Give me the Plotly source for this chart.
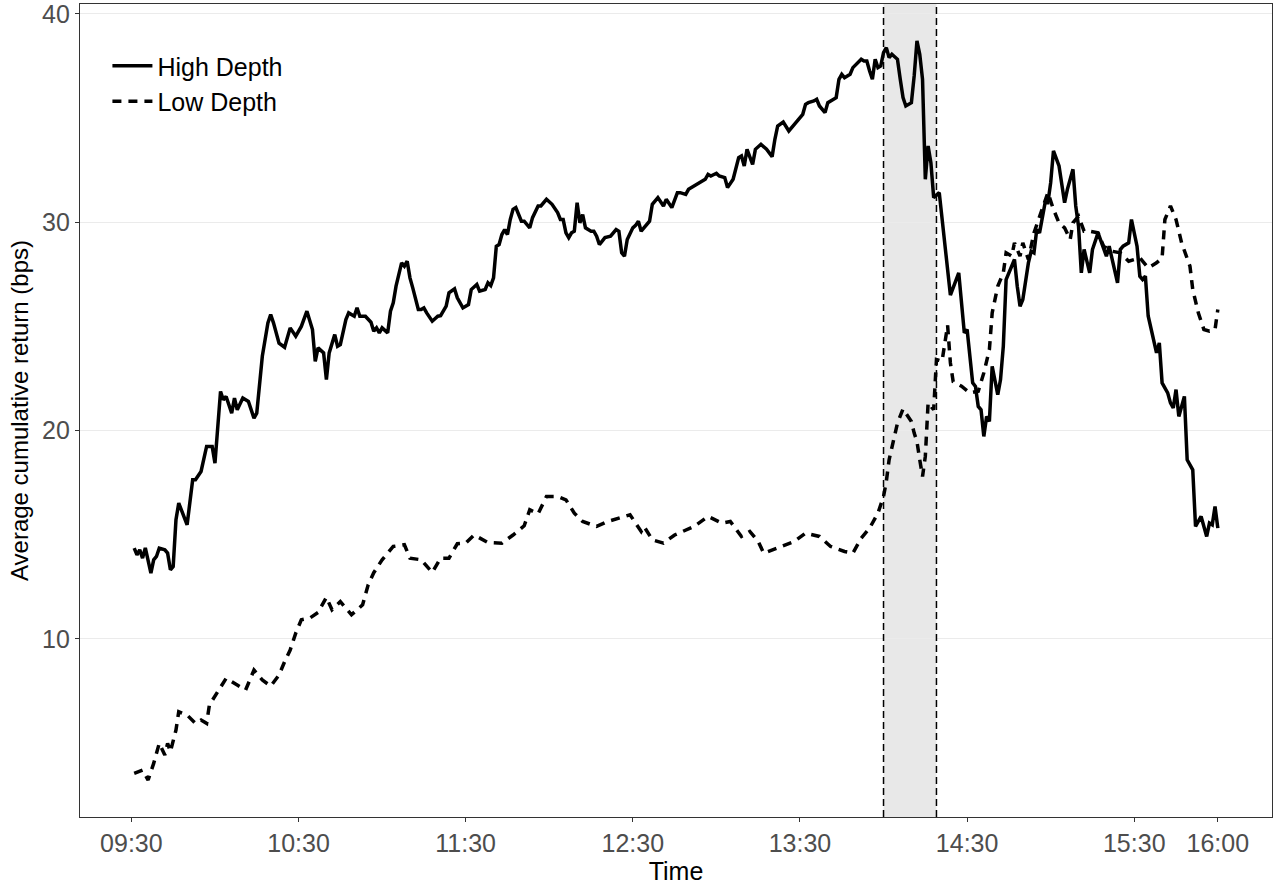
import pandas as pd
import plotly.graph_objects as go

# Minutes after the 09:30 open and average cumulative returns (bps)
high_minutes = [
    1, 2, 3, 4, 5, 7, 8, 9, 10, 12, 13, 14, 15, 16, 17, 20, 22, 23, 25, 27,
    29, 30, 32, 33, 34, 36, 37, 38, 40, 42, 44, 45, 47, 49, 50, 51, 53, 55, 57, 59,
    61, 63, 65, 66, 67, 69, 70, 71, 73, 74, 75, 77, 78, 80, 81, 82, 84, 86, 87, 88,
    89, 90, 92, 93, 94, 95, 97, 98, 99, 100, 101, 103, 104, 105, 106, 108, 110, 111, 113, 114,
    116, 117, 119, 121, 122, 124, 125, 127, 128, 129, 130, 131, 132, 133, 134, 135, 136, 137, 138, 140,
    141, 143, 144, 146, 147, 149, 151, 153, 154, 155, 156, 157, 158, 159, 160, 161, 162, 163, 165, 166,
    167, 168, 170, 172, 174, 175, 176, 177, 178, 180, 181, 182, 183, 185, 186, 187, 189, 191, 192, 194,
    196, 197, 199, 200, 202, 204, 206, 207, 208, 210, 211, 213, 214, 216, 218, 219, 220, 221, 223, 224,
    226, 228, 230, 231, 232, 234, 235, 236, 238, 239, 241, 242, 243, 245, 246, 247, 249, 250, 251, 253,
    254, 255, 256, 258, 259, 261, 262, 263, 264, 265, 266, 267, 268, 269, 270, 271, 272, 273, 275, 276,
    277, 278, 280, 281, 282, 283, 284, 285, 286, 287, 288, 290, 291, 292, 294, 297, 299, 300, 302, 303,
    304, 305, 306, 307, 308, 309, 311, 312, 313, 314, 315, 317, 318, 319, 320, 322, 323, 324, 325, 326,
    328, 329, 330, 331, 333, 335, 336, 338, 339, 340, 341, 342, 344, 345, 347, 349, 350, 351, 352, 354,
    355, 356, 358, 359, 361, 362, 363, 364, 365, 367, 368, 369, 370, 372, 373, 374, 375, 376, 378, 379,
    381, 382, 384, 386, 387, 388, 389, 390,
]
high_depth = [
    14.36, 14.04, 14.28, 13.88, 14.37, 13.16, 13.80, 13.96, 14.36, 14.28, 14.12, 13.32, 13.48, 15.72, 16.52, 15.48, 17.64, 17.64, 18.04, 19.24,
    19.24, 18.44, 21.88, 21.48, 21.64, 20.84, 21.56, 21.00, 21.56, 21.40, 20.60, 20.84, 23.57, 25.17, 25.57, 25.17, 24.20, 24.00, 24.93, 24.53,
    25.00, 25.73, 24.85, 23.32, 23.97, 23.73, 22.45, 23.73, 24.61, 24.05, 24.13, 25.33, 25.65, 25.49, 25.89, 25.49, 25.49, 25.20, 24.77, 24.93,
    24.69, 24.93, 24.69, 25.73, 26.13, 26.93, 28.05, 27.89, 28.13, 27.33, 26.85, 25.81, 25.81, 25.89, 25.65, 25.25, 25.49, 25.52, 25.97, 26.61,
    26.80, 26.37, 25.89, 26.05, 26.77, 27.01, 26.69, 26.77, 27.09, 26.96, 27.33, 28.85, 28.93, 29.41, 29.65, 29.41, 30.13, 30.62, 30.70, 30.05,
    30.05, 29.73, 30.22, 30.78, 30.78, 31.10, 30.86, 30.46, 30.13, 30.13, 29.49, 29.26, 29.49, 29.57, 30.94, 29.97, 30.37, 29.73, 29.57, 29.57,
    29.33, 28.93, 29.26, 29.33, 29.65, 29.57, 28.53, 28.37, 29.17, 29.73, 29.85, 30.05, 29.57, 29.89, 30.05, 30.86, 31.18, 30.78, 31.10, 30.70,
    31.42, 31.42, 31.34, 31.58, 31.74, 31.93, 32.06, 32.30, 32.22, 32.35, 32.22, 32.14, 31.66, 32.06, 33.10, 33.18, 32.70, 33.50, 32.78, 33.50,
    33.74, 33.50, 33.15, 33.98, 34.62, 34.81, 34.62, 34.38, 34.70, 34.86, 35.18, 35.66, 35.74, 35.82, 35.90, 35.58, 35.26, 35.74, 35.82, 35.98,
    36.86, 37.10, 36.94, 37.10, 37.42, 37.66, 37.82, 37.74, 37.74, 37.26, 36.86, 37.82, 37.42, 37.50, 38.14, 38.38, 37.90, 38.06, 37.82, 36.86,
    35.98, 35.58, 35.74, 37.02, 38.70, 38.06, 36.86, 32.06, 33.66, 32.86, 31.18, 31.42, 30.13, 29.00, 26.50, 27.57, 24.69, 24.85, 22.29, 22.12,
    21.16, 21.00, 19.72, 20.68, 20.44, 23.09, 21.73, 22.45, 24.05, 27.25, 27.57, 28.21, 26.93, 25.97, 26.29, 28.05, 28.61, 28.53, 29.65, 29.49,
    30.94, 30.94, 31.90, 33.42, 32.70, 30.94, 31.58, 32.54, 30.78, 29.81, 27.57, 28.69, 27.57, 28.69, 29.49, 28.69, 28.37, 28.85, 28.21, 27.09,
    28.69, 28.85, 29.01, 30.13, 28.85, 27.41, 27.25, 27.41, 25.50, 24.37, 23.73, 24.21, 22.29, 21.81, 21.33, 21.09, 21.97, 20.68, 21.64, 18.60,
    18.12, 15.40, 15.88, 14.92, 15.56, 15.48, 16.36, 15.32,
]

low_minutes = [
    1, 4, 6, 8, 10, 12, 13, 14, 16, 17, 20, 23, 25, 27, 28, 31, 34, 38, 41, 44,
    47, 50, 53, 55, 57, 59, 61, 64, 67, 70, 72, 75, 79, 83, 85, 87, 90, 94, 98, 100,
    104, 108, 111, 114, 117, 120, 123, 128, 133, 137, 141, 143, 146, 149, 153, 156, 159, 162, 167, 171,
    175, 179, 183, 184, 187, 191, 195, 199, 202, 207, 212, 215, 219, 222, 225, 227, 233, 238, 242, 247,
    251, 256, 259, 262, 265, 268, 270, 271, 272, 274, 275, 277, 280, 281, 282, 283, 284, 285, 286, 288,
    289, 291, 293, 294, 295, 298, 301, 304, 306, 308, 309, 311, 313, 314, 316, 317, 319, 320, 322, 324,
    326, 328, 329, 331, 333, 335, 337, 338, 340, 342, 344, 347, 349, 352, 355, 358, 362, 365, 368, 370,
    371, 373, 375, 377, 380, 381, 383, 385, 387, 389, 390,
]
low_depth = [
    3.55, 3.71, 3.23, 4.03, 4.99, 4.43, 4.99, 4.59, 5.63, 6.51, 6.35, 5.95, 6.11, 5.95, 6.83, 7.47, 8.11, 7.79, 7.55, 8.51,
    8.03, 7.74, 8.27, 8.91, 9.47, 10.28, 10.92, 11.00, 11.27, 12.00, 11.40, 11.79, 11.16, 11.64, 12.60, 13.18, 13.80, 14.44, 14.52, 13.88,
    13.80, 13.19, 13.88, 13.88, 14.57, 14.60, 14.99, 14.63, 14.60, 14.99, 15.43, 16.20, 16.01, 16.84, 16.84, 16.68, 16.04, 15.64, 15.40, 15.64,
    15.80, 15.96, 15.16, 15.40, 14.76, 14.60, 14.99, 15.24, 15.40, 15.88, 15.56, 15.64, 14.92, 15.16, 14.68, 14.12, 14.44, 14.68, 15.08, 14.92,
    14.44, 14.20, 14.12, 14.84, 15.32, 16.04, 16.84, 17.56, 18.60, 19.88, 20.36, 21.04, 20.44, 19.88, 19.48, 18.60, 17.80, 18.76, 21.33, 21.00,
    23.41, 23.33, 25.05, 23.25, 22.35, 22.13, 21.81, 21.89, 22.77, 23.89, 25.65, 26.93, 27.57, 28.53, 28.37, 29.01, 28.37, 29.01, 28.21, 29.49,
    30.29, 31.10, 31.42, 30.62, 29.97, 29.73, 29.17, 29.97, 30.29, 29.57, 29.57, 29.49, 28.85, 28.61, 28.53, 28.13, 28.29, 27.81, 28.05, 28.29,
    30.13, 30.78, 30.13, 29.01, 27.89, 26.77, 25.65, 24.85, 24.77, 24.85, 25.81,
]

tick_labels = ["09:30", "10:30", "11:30", "12:30", "13:30", "14:30", "15:30", "16:00"]
event_window = ["14:00", "14:19"]

session_day = "2000-01-03"
open_time = pd.Timestamp(f"{session_day} 09:30")


def clock(label):
    return pd.Timestamp(f"{session_day} {label}")


high_x = open_time + pd.to_timedelta(high_minutes, unit="m")
low_x = open_time + pd.to_timedelta(low_minutes, unit="m")

# ggplot-style 5% expansion of both scales
x_lo = min(high_x.min(), low_x.min())
x_hi = max(high_x.max(), low_x.max())
x_pad = (x_hi - x_lo) * 0.05
y_lo = min(min(high_depth), min(low_depth))
y_hi = max(max(high_depth), max(low_depth))
y_pad = (y_hi - y_lo) * 0.05

fig = go.Figure()
fig.add_trace(go.Scatter(
    x=high_x, y=high_depth, mode="lines", name="High Depth",
    line=dict(color="black", width=3.5),
))
fig.add_trace(go.Scatter(
    x=low_x, y=low_depth, mode="lines", name="Low Depth",
    line=dict(color="black", width=3.5, dash="9px,7px"),
))

# Shaded event window with dashed boundaries
fig.add_shape(type="rect", xref="x", yref="paper",
              x0=clock(event_window[0]), x1=clock(event_window[1]), y0=0, y1=1,
              fillcolor="#e8e8e8", line=dict(width=0), layer="below")
for edge in event_window:
    fig.add_shape(type="line", xref="x", yref="paper",
                  x0=clock(edge), x1=clock(edge), y0=0, y1=1,
                  line=dict(color="black", width=1.5, dash="7px,4px"), layer="above")

fig.update_layout(
    width=1277, height=886,
    margin=dict(l=80, r=5, t=4, b=69),
    plot_bgcolor="white", paper_bgcolor="white",
    font=dict(family="Liberation Sans, Arial, sans-serif", size=24, color="black"),
    legend=dict(x=0.023, y=0.952, xanchor="left", yanchor="top", itemwidth=40,
                bgcolor="rgba(0,0,0,0)", font=dict(size=25, color="black")),
)
fig.update_xaxes(
    type="date", automargin=False,
    range=[x_lo - x_pad, x_hi + x_pad],
    tickvals=[clock(t) for t in tick_labels], ticktext=tick_labels,
    ticks="outside", ticklen=4, tickwidth=1.2, tickcolor="#333333",
    tickfont=dict(size=25, color="#4d4d4d"), ticklabeloverflow="allow",
    showgrid=False, zeroline=False,
    showline=True, linecolor="#333333", linewidth=1.4, mirror=True,
    title=dict(text="Time", font=dict(size=25, color="black"), standoff=4),
)
fig.update_yaxes(
    automargin=False,
    range=[y_lo - y_pad, y_hi + y_pad],
    tickvals=[10, 20, 30, 40],
    ticks="outside", ticklen=4, tickwidth=1.2, tickcolor="#333333",
    tickfont=dict(size=25, color="#4d4d4d"), ticklabeloverflow="allow",
    showgrid=True, gridcolor="#ebebeb", gridwidth=1.3, zeroline=False,
    showline=True, linecolor="#333333", linewidth=1.4, mirror=True,
    title=dict(text="Average cumulative return (bps)", font=dict(size=24, color="black"), standoff=6),
)

fig.write_html("out.html")
